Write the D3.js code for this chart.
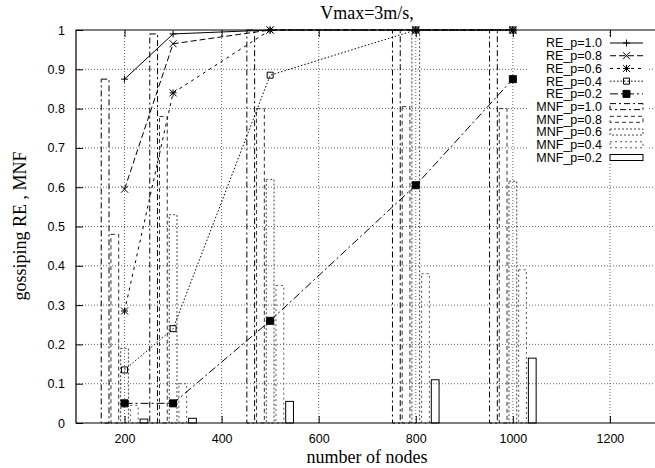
<!DOCTYPE html>
<html>
<head>
<meta charset="utf-8">
<script src="https://cdn.jsdelivr.net/npm/d3@7"></script>
<style>
body{margin:0;background:#fff;}
.tick text{font-family:"Liberation Sans",Arial,sans-serif;font-size:12.5px;fill:#000;}
.lbl{font-family:"Liberation Serif","Times New Roman",serif;font-size:18px;fill:#000;}
.key{font-family:"Liberation Sans",Arial,sans-serif;font-size:12.5px;fill:#000;}
</style>
</head>
<body>
<div id="chart"></div>
<script>
var w = 655;
var h = 468;
var svgChart, xScale, yScale;

// data
var nodes = [200, 300, 500, 800, 1000];
var xTicks = [200, 400, 600, 800, 1000, 1200];
var yTicks = [0, 0.1, 0.2, 0.3, 0.4, 0.5, 0.6, 0.7, 0.8, 0.9, 1];

var reNames = ["RE_p=1.0", "RE_p=0.8", "RE_p=0.6", "RE_p=0.4", "RE_p=0.2"];
var re10 = [0.875, 0.99, 1, 1, 1];
var re08 = [0.595, 0.965, 1, 1, 1];
var re06 = [0.285, 0.84, 1, 1, 1];
var re04 = [0.135, 0.24, 0.885, 1, 1];
var re02 = [0.05, 0.05, 0.26, 0.605, 0.875];

var mnfNames = ["MNF_p=1.0", "MNF_p=0.8", "MNF_p=0.6", "MNF_p=0.4", "MNF_p=0.2"];
var mnf10 = [0.875, 0.99, 1, 1, 1];
var mnf08 = [0.48, 0.78, 0.8, 0.805, 0.8];
var mnf06 = [0.19, 0.53, 0.62, 1, 0.615];
var mnf04 = [0.045, 0.1, 0.35, 0.38, 0.39];
var mnf02 = [0.01, 0.012, 0.055, 0.11, 0.165];
var mnfOffset = [-40, -20, 0, 20, 40];

var reDash = ["none", "6,3", "3,4", "1.5,2", "8,3,2,3"];
var reMark = ["plus", "cross", "star", "box", "fbox"];
var mnfDash = ["6,3,2,3", "4,3", "2,2", "2,3", "none"];
var mnfColor = ["#000", "#333", "#444", "#555", "#000"];

function setScales(){
  xScale = d3.scaleLinear()
   .domain([100, 1400])
   .range([76, 707]);
  yScale = d3.scaleLinear()
   .domain([0, 1])
   .range([423, 30]);
}

function runTool(){
  setScales();
  svgChart = d3.select("#chart")
  .append("svg")
  .attr("width", w)
  .attr("height", h);
  drawGrid();
  drawBars();
  drawLines();
  drawKey();
  drawAxes();
}

function drawGrid(){
  var g = svgChart.append("g");
  g.selectAll(".gx")
  .data(xTicks)
  .enter().append("line")
  .attr("x1", function(d){return xScale(d);})
  .attr("x2", function(d){return xScale(d);})
  .attr("y1", yScale(0))
  .attr("y2", yScale(1))
  .attr("stroke", "#666")
  .attr("stroke-dasharray", "1,2");
  g.selectAll(".gy")
  .data(yTicks.slice(1, 10))
  .enter().append("line")
  .attr("x1", xScale(100))
  .attr("x2", w)
  .attr("y1", function(d){return yScale(d);})
  .attr("y2", function(d){return yScale(d);})
  .attr("stroke", "#666")
  .attr("stroke-dasharray", "1,2");
}

function drawBars(){
  var mnf = [mnf10, mnf08, mnf06, mnf04, mnf02];
  mnf.forEach(function(vals, i){
    svgChart.append("g")
    .selectAll("rect")
    .data(vals)
    .enter().append("rect")
    .attr("x", function(d, j){return xScale(nodes[j] + mnfOffset[i] - 8);})
    .attr("y", function(d){return yScale(d);})
    .attr("width", function(d, j){return xScale(nodes[j] + mnfOffset[i] + 8) - xScale(nodes[j] + mnfOffset[i] - 8);})
    .attr("height", function(d){return yScale(0) - yScale(d);})
    .attr("fill", "none")
    .attr("stroke", mnfColor[i])
    .attr("stroke-dasharray", mnfDash[i]);
  });
}

function marker(g, type, x, y){
  var s = 3.5;
  var p = g.append("path").attr("stroke", "#000").attr("fill", "none");
  if(type === "plus") p.attr("d", "M" + (x - s) + "," + y + "H" + (x + s) + "M" + x + "," + (y - s) + "V" + (y + s));
  if(type === "cross") p.attr("d", "M" + (x - s) + "," + (y - s) + "L" + (x + s) + "," + (y + s) + "M" + (x - s) + "," + (y + s) + "L" + (x + s) + "," + (y - s));
  if(type === "star") p.attr("d", "M" + (x - s) + "," + y + "H" + (x + s) + "M" + x + "," + (y - s) + "V" + (y + s) +
    "M" + (x - s) + "," + (y - s) + "L" + (x + s) + "," + (y + s) + "M" + (x - s) + "," + (y + s) + "L" + (x + s) + "," + (y - s));
  if(type === "box") p.attr("d", "M" + (x - 3) + "," + (y - 3) + "h6v6h-6z");
  if(type === "fbox") p.attr("d", "M" + (x - 3.5) + "," + (y - 3.5) + "h7v7h-7z").attr("fill", "#000");
}

function drawLines(){
  var re = [re10, re08, re06, re04, re02];
  var line = d3.line()
  .x(function(d, j){return xScale(nodes[j]);})
  .y(function(d){return yScale(d);});
  re.forEach(function(vals, i){
    var g = svgChart.append("g");
    g.append("path")
    .attr("d", line(vals))
    .attr("fill", "none")
    .attr("stroke", "#000")
    .attr("stroke-dasharray", reDash[i]);
    vals.forEach(function(d, j){
      marker(g, reMark[i], xScale(nodes[j]), yScale(d));
    });
  });
}

function drawKey(){
  var g = svgChart.append("g");
  var names = reNames.concat(mnfNames);
  var rowY = d3.scaleLinear().domain([0, 9]).range([43, 157.5]);
  // key area hides the grid behind it
  g.append("rect")
  .attr("x", 527).attr("y", 36)
  .attr("width", 121).attr("height", 128)
  .attr("fill", "#fff");
  g.selectAll("text")
  .data(names)
  .enter().append("text")
  .attr("class", "key")
  .attr("x", 602)
  .attr("y", function(d, i){return rowY(i);})
  .attr("dy", "0.35em")
  .style("text-anchor", "end")
  .text(function(d){return d;});
  reNames.forEach(function(d, i){
    g.append("line")
    .attr("x1", 610).attr("x2", 643)
    .attr("y1", rowY(i)).attr("y2", rowY(i))
    .attr("stroke", "#000")
    .attr("stroke-dasharray", reDash[i]);
    marker(g, reMark[i], 626.5, rowY(i));
  });
  mnfNames.forEach(function(d, i){
    g.append("rect")
    .attr("x", 610).attr("y", rowY(i + 5) - 3)
    .attr("width", 33).attr("height", 6)
    .attr("fill", "none")
    .attr("stroke", mnfColor[i])
    .attr("stroke-dasharray", mnfDash[i]);
  });
}

function drawAxes(){
  //x axis with ticks pointing inward
  svgChart.append("g")
  .attr("class", "axis")
  .attr("transform", "translate(0," + yScale(0) + ")")
  .call(d3.axisBottom(xScale).tickValues(xTicks).tickSizeInner(-7).tickSizeOuter(0).tickPadding(11).tickFormat(d3.format("d")))
  .call(function(g){g.select(".domain").remove();});
  // top ticks
  svgChart.append("g")
  .attr("transform", "translate(0," + yScale(1) + ")")
  .call(d3.axisTop(xScale).tickValues(xTicks).tickSizeInner(-7).tickSizeOuter(0).tickFormat(""))
  .call(function(g){g.select(".domain").remove();});
  //y axis
  svgChart.append("g")
  .attr("class", "axis")
  .attr("transform", "translate(" + xScale(100) + ",0)")
  .call(d3.axisLeft(yScale).tickValues(yTicks).tickSizeInner(-7).tickSizeOuter(0).tickPadding(11)
    .tickFormat(function(d){return d === 0 || d === 1 ? d3.format("d")(d) : d3.format(".1f")(d);}))
  .call(function(g){g.select(".domain").remove();});

  // frame
  svgChart.append("path")
  .attr("d", "M" + w + "," + yScale(1) + "H" + xScale(100) + "V" + yScale(0) + "H" + w)
  .attr("fill", "none")
  .attr("stroke", "#000")
  .attr("stroke-width", 1.2);

  svgChart.append("text")
  .attr("class", "lbl")
  .attr("x", 367).attr("y", 19)
  .style("text-anchor", "middle")
  .text("Vmax=3m/s,");

  // text label for the x axis
  svgChart.append("text")
  .attr("class", "lbl")
  .attr("x", 367).attr("y", 463)
  .style("text-anchor", "middle")
  .text("number of nodes");

  // text label for the y axis
  svgChart.append("text")
  .attr("class", "lbl")
  .attr("transform", "rotate(-90)")
  .attr("x", -226).attr("y", 26)
  .style("text-anchor", "middle")
  .text("gossiping RE , MNF");
}

runTool();
</script>
</body>
</html>
